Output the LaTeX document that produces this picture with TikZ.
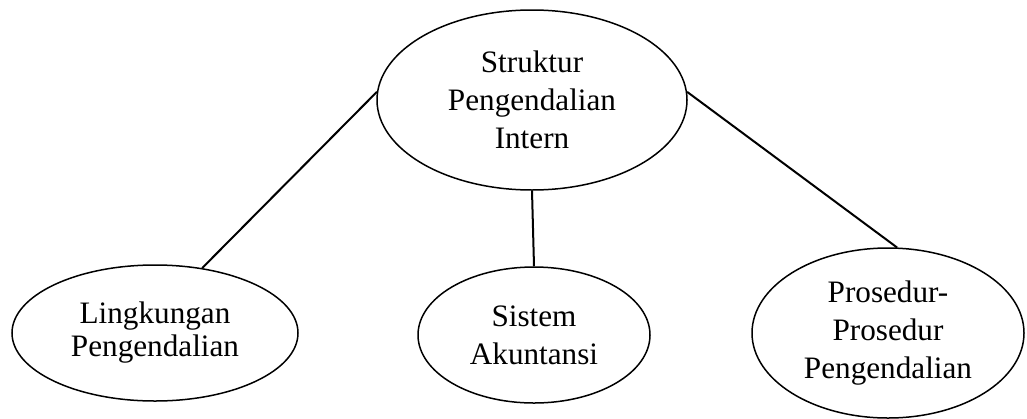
\documentclass[tikz,border=0pt]{standalone}
\usepackage{fontspec}
\setmainfont{Liberation Serif}
\usetikzlibrary{shapes.geometric}

\begin{document}
\begin{tikzpicture}[
	x=0.5pt, y=-0.5pt,
	every node/.style={font=\fontsize{15.6}{19}\selectfont},
	elips/.style={draw, ellipse, line width=0.75pt, inner sep=0pt, align=center},
	garis/.style={line width=1pt}
	]
	\useasboundingbox (0,0) rectangle (1027,418);
	
	% Elips utama
	\node[elips, minimum width=155pt, minimum height=90pt] (spi) at (532,100)
	{Struktur\\Pengendalian\\Intern};
	
	% Elips bawah
	\node[elips, minimum width=143pt, minimum height=68pt] (lingkungan) at (155,333)
	{Lingkungan\\[-2.5pt]Pengendalian};
	
	\node[elips, minimum width=116pt, minimum height=68pt] (sistem) at (534,335)
	{Sistem\\Akuntansi};
	
	\node[elips, minimum width=136pt, minimum height=85pt] (prosedur) at (888,333)
	{Prosedur-\\Prosedur\\Pengendalian};
	
	% Garis penghubung
	\draw[garis] (spi.177) -- (lingkungan.54);
	\draw[garis] (spi.south) -- (sistem.north);
	\draw[garis] (spi.3) -- (prosedur.84);
	
\end{tikzpicture}
\end{document}
